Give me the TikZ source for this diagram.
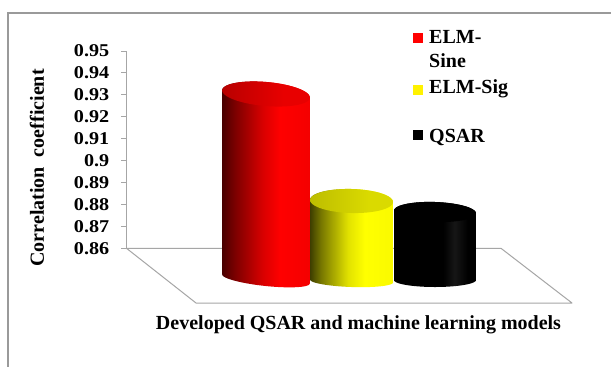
\documentclass[tikz,border=0pt]{standalone}
\usepackage{fontspec}
\setmainfont{Liberation Serif}
\definecolor{framecol}{HTML}{9A9A9A}
\definecolor{gridcol}{HTML}{A6A6A6}
\definecolor{rs0}{HTML}{4A0000}
\definecolor{rs1}{HTML}{7A0000}
\definecolor{rs2}{HTML}{D80000}
\definecolor{rs3}{HTML}{FF0000}
\definecolor{rs4}{HTML}{F40000}
\definecolor{rt0}{HTML}{B80000}
\definecolor{rt1}{HTML}{E80000}
\definecolor{ys0}{HTML}{3E3E00}
\definecolor{ys1}{HTML}{7A7A00}
\definecolor{ys2}{HTML}{E2E200}
\definecolor{ys3}{HTML}{FFFF00}
\definecolor{ys4}{HTML}{FAFA00}
\definecolor{yt0}{HTML}{BDBD00}
\definecolor{yt1}{HTML}{DADA00}
\definecolor{ks1}{HTML}{161616}
\pgfdeclarehorizontalshading{redside}{100bp}{color(0bp)=(rs0); color(25bp)=(rs0); color(32bp)=(rs1); color(48bp)=(rs2); color(58bp)=(rs3); color(75bp)=(rs4); color(100bp)=(rs4)}
\pgfdeclarehorizontalshading{redtop}{100bp}{color(0bp)=(rt0); color(25bp)=(rt0); color(60bp)=(rt1); color(75bp)=(rt1); color(100bp)=(rt1)}
\pgfdeclarehorizontalshading{yelside}{100bp}{color(0bp)=(ys0); color(25bp)=(ys0); color(32bp)=(ys1); color(48bp)=(ys2); color(58bp)=(ys3); color(75bp)=(ys4); color(100bp)=(ys4)}
\pgfdeclarehorizontalshading{yeltop}{100bp}{color(0bp)=(yt0); color(25bp)=(yt0); color(60bp)=(yt1); color(75bp)=(yt1); color(100bp)=(yt1)}
\pgfdeclarehorizontalshading{blkside}{100bp}{color(0bp)=(black); color(25bp)=(black); color(55bp)=(black); color(62bp)=(ks1); color(70bp)=(black); color(100bp)=(black)}
% #1 cx, #2 rx, #3 top cy, #4 top b, #5 top tilt, #6 bottom cy, #7 bottom b, #8 bottom tilt, #9 style
\newcommand{\cylshape}[9]{%
  \path[#9] plot[domain=180:0, samples=60, variable=\t]
    ({#1+#2*cos(\t)*cos(#8)-#7*sin(\t)*sin(#8)},{#6+#2*cos(\t)*sin(#8)+#7*sin(\t)*cos(#8)})
    -- plot[domain=0:-180, samples=60, variable=\t]
    ({#1+#2*cos(\t)*cos(#5)-#4*sin(\t)*sin(#5)},{#3+#2*cos(\t)*sin(#5)+#4*sin(\t)*cos(#5)}) -- cycle;}
% #1 cx, #2 rx, #3 cy, #4 b, #5 tilt, #6 style
\newcommand{\cyltop}[6]{%
  \path[#6] plot[domain=0:360, samples=90, variable=\t]
    ({#1+#2*cos(\t)*cos(#5)-#4*sin(\t)*sin(#5)},{#3+#2*cos(\t)*sin(#5)+#4*sin(\t)*cos(#5)}) -- cycle;}
\tikzset{
  ticklab/.style={font=\fontsize{18}{18}\selectfont\bfseries, anchor=east, inner sep=0pt, xscale=1.12},
  legtext/.style={font=\fontsize{20}{20}\selectfont\bfseries, anchor=base west, inner sep=0pt},
  legbox/.style={inner sep=0pt, minimum size=10pt},
  axtitle/.style={font=\fontsize{20}{20}\selectfont\bfseries, inner sep=0pt},
  gridline/.style={draw=gridcol, line width=1pt}
}
\begin{document}
\begin{tikzpicture}[x=1pt,y=-1pt]
\useasboundingbox[fill=white] (0,0) rectangle (611,367);
% frame
\draw[framecol, line width=1.3pt] (8,367) -- (8,13) -- (611,13);
% floor
\coordinate (fbl) at (126.5,248.3);
\coordinate (fbr) at (501,248.3);
\coordinate (ffr) at (572,303);
\coordinate (ffl) at (196,303);
\draw[gridline, line join=round] (fbl) -- (fbr) -- (ffr) -- (ffl) -- cycle;
% axis
\coordinate (atop) at (126.5,51);
\draw[gridline] (atop) -- (fbl);
\foreach \lab [count=\i from 0] in {0.95,0.94,0.93,0.92,0.91,0.9,0.89,0.88,0.87,0.86}{
  \pgfmathsetmacro{\yy}{51+21.93*\i}
  \coordinate (tk\i) at (126.5,\yy);
  \coordinate (tl\i) at (121,\yy);
  \draw[gridline] (tl\i) -- (tk\i);
  \node[ticklab] (lab\i) at (109.5,\yy) {\lab};
}
% bars: black, yellow, red
\cylshape{435}{41}{212}{10}{2}{280}{7}{0}{shading=blkside}
\cyltop{435}{41}{212}{10}{2}{fill=black}
\cylshape{351.5}{41.5}{201}{12}{1.5}{281}{6}{2}{shading=yelside}
\cyltop{351.5}{41.5}{201}{12}{1.5}{shading=yeltop}
\cylshape{266}{44}{94}{12}{5}{279}{7}{6}{shading=redside}
\cyltop{266}{44}{94}{12}{5}{shading=redtop}
% legend
\node[legbox, fill=red, anchor=north west] (lr) at (413,32.5) {};
\node[legtext] (tr1) at (429,43) {ELM-};
\node[legtext] (tr2) at (429,67) {Sine};
\node[legbox, fill=yellow, anchor=north west] (ly) at (413,84.5) {};
\node[legtext] (ty) at (429,93) {ELM-Sig};
\node[legbox, fill=black, anchor=north west] (lk) at (413,129.5) {};
\node[legtext] (tk) at (429,142) {QSAR};
% axis titles
\node[axtitle, rotate=90] (ytitle) at (37,168) {Correlation\ \ coefficient};
\node[axtitle] (xtitle) at (358.5,325) {Developed QSAR and machine learning models};
\end{tikzpicture}
\end{document}
